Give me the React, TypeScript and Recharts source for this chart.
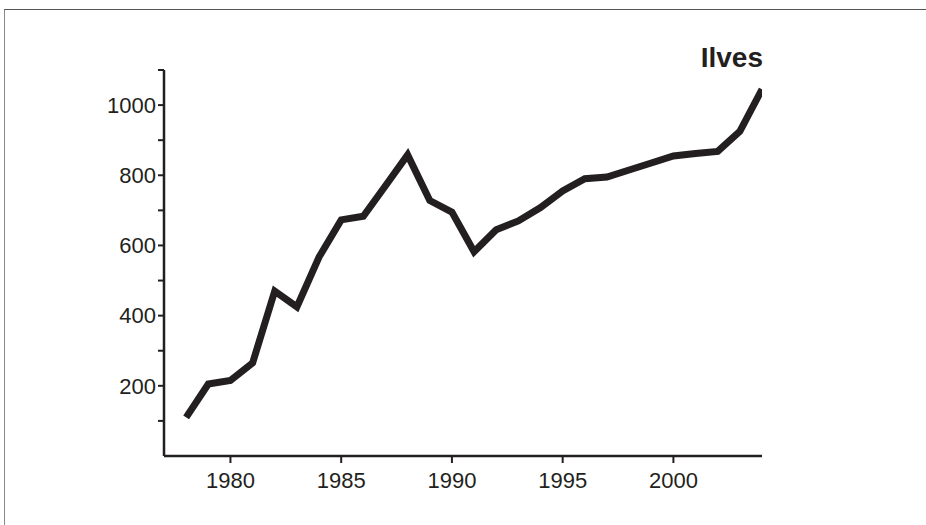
import React from 'react'
import { LineChart, Line, XAxis, YAxis } from 'recharts'

// Ilves – vuosittaiset arvot
const years = [1978, 1979, 1980, 1981, 1982, 1983, 1984, 1985, 1986, 1987, 1988, 1989, 1990, 1991, 1992, 1993, 1994, 1995, 1996, 1997, 1998, 1999, 2000, 2001, 2002, 2003, 2004]
const values = [110, 205, 215, 265, 470, 425, 567, 673, 683, 770, 858, 728, 695, 582, 645, 670, 708, 755, 790, 795, 815, 835, 855, 862, 868, 925, 1045]
const xTicks = [1980, 1985, 1990, 1995, 2000]
const yTicks = [100, 200, 300, 400, 500, 600, 700, 800, 900, 1000, 1100]
const yLabels = [200, 400, 600, 800, 1000]
const title = 'Ilves'

const data = years.map((year, i) => ({ year, value: values[i] }))

const ink = '#231f20'
const font = '"Liberation Sans", Arial, sans-serif'

const App = () => {
  return (
    <div style={{ position: 'absolute', left: 0, top: 0, width: 926, height: 525, background: '#fff', overflow: 'hidden' }}>
      <div
        style={{
          position: 'absolute',
          left: 4,
          top: 9,
          right: -10,
          bottom: -10,
          borderTop: '1px solid #555',
          borderLeft: '1px solid #888',
        }}
      />
      <LineChart width={926} height={525} data={data} margin={{ top: 70, right: 164, bottom: 29, left: 104 }}>
        <XAxis
          dataKey="year"
          type="number"
          domain={[1977, 2004]}
          ticks={xTicks}
          allowDataOverflow
          height={40}
          tickSize={7}
          tickMargin={9}
          axisLine={{ stroke: ink, strokeWidth: 2.5 }}
          tickLine={{ stroke: ink, strokeWidth: 2 }}
          tick={{ fill: ink, fontSize: 22, fontFamily: font }}
        />
        <YAxis
          type="number"
          domain={[0, 1100]}
          ticks={yTicks}
          interval={0}
          width={60}
          tickSize={6}
          tickFormatter={v => (yLabels.includes(v) ? String(v) : '')}
          axisLine={{ stroke: ink, strokeWidth: 2.5 }}
          tickLine={{ stroke: ink, strokeWidth: 2 }}
          tick={{ fill: ink, fontSize: 22, fontFamily: font }}
        />
        <Line
          dataKey="value"
          type="linear"
          stroke={ink}
          strokeWidth={7}
          strokeLinejoin="miter"
          strokeLinecap="butt"
          dot={false}
          activeDot={false}
          isAnimationActive={false}
        />
      </LineChart>
      <div
        style={{
          position: 'absolute',
          right: 926 - 763,
          top: 44,
          fontFamily: font,
          fontWeight: 'bold',
          fontSize: 28,
          color: ink,
          lineHeight: '28px',
        }}
      >
        {title}
      </div>
    </div>
  )
}

export default App
